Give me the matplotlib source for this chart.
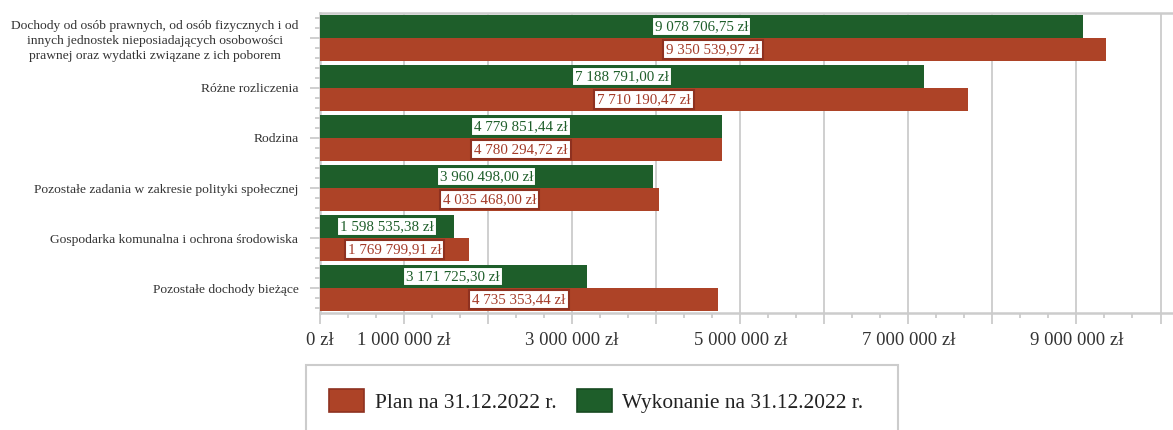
import numpy as np
import matplotlib.pyplot as plt
from matplotlib.patches import Patch, Rectangle
from matplotlib.ticker import FixedLocator, FuncFormatter

plt.rcParams["font.family"] = ["Liberation Serif", "DejaVu Serif"]

categories = [
    "Dochody od osób prawnych, od osób fizycznych i od\n"
    "innych jednostek nieposiadających osobowości\n"
    "prawnej oraz wydatki związane z ich poborem",
    "Różne rozliczenia",
    "Rodzina",
    "Pozostałe zadania w zakresie polityki społecznej",
    "Gospodarka komunalna i ochrona środowiska",
    "Pozostałe dochody bieżące",
]
wykonanie = [9078706.75, 7188791.00, 4779851.44, 3960498.00, 1598535.38, 3171725.30]
plan = [9350539.97, 7710190.47, 4780294.72, 4035468.00, 1769799.91, 4735353.44]
labelled_ticks = [0, 1e6, 3e6, 5e6, 7e6, 9e6]

GREEN = "#1e5e2a"
RED = "#ad4327"
RED_DARK = "#8e3120"
GRID = "#cccccc"
W, H = 1173, 430


def zl(v, decimals=2):
    s = f"{v:,.{decimals}f}".replace(",", " ").replace(".", ",")
    return s + " zł"


fig = plt.figure(figsize=(W / 100, H / 100), dpi=100)
ax = fig.add_axes([320 / W, (H - 313) / H, (W - 320) / W, 300 / H])

y = np.arange(len(categories))
bh = 0.45
ax.barh(y - 0.23, wykonanie, height=bh, color=GREEN, zorder=3)
ax.barh(y + 0.23, plan, height=bh, color=RED, zorder=3)

for yi, v in zip(y, wykonanie):
    ax.text(v / 2, yi - 0.23, zl(v), ha="center", va="center", fontsize=10.8,
            color=GREEN, zorder=5,
            bbox=dict(boxstyle="square,pad=0.2", fc="white", ec=GREEN, lw=1.5))
for yi, v in zip(y, plan):
    ax.text(v / 2, yi + 0.23, zl(v), ha="center", va="center", fontsize=10.8,
            color="#a33a28", zorder=5,
            bbox=dict(boxstyle="square,pad=0.2", fc="white", ec=RED_DARK, lw=1.5))

ax.set_ylim(len(categories) - 0.5, -0.5)
ax.set_xlim(0, 853 / 84.05 * 1e6)

ax.set_yticks(y)
ax.set_yticklabels(categories, multialignment="center", linespacing=1.3)
minor_y = np.concatenate([y + d for d in (-0.4, -0.2, 0.2, 0.4)])
ax.yaxis.set_minor_locator(FixedLocator(minor_y))

ax.xaxis.set_major_locator(FixedLocator(np.arange(0, 11e6, 1e6)))
ax.xaxis.set_minor_locator(FixedLocator(np.arange(0, 10.2e6, 1e6 / 3)))
ax.xaxis.set_major_formatter(FuncFormatter(
    lambda v, p: zl(v, 0) if any(abs(v - t) < 1 for t in labelled_ticks) else ""))

ax.grid(axis="x", color=GRID, lw=1.3, zorder=0)
for side in ("top", "bottom", "left"):
    ax.spines[side].set_color(GRID)
    ax.spines[side].set_linewidth(1.8)
ax.spines["right"].set_visible(False)

ax.tick_params(axis="y", which="major", length=7.5, width=1.3, color=GRID,
               pad=8, labelsize=9.7, labelcolor="#333333")
ax.tick_params(axis="y", which="minor", length=3.5, width=1.3, color=GRID)
ax.tick_params(axis="x", which="major", length=8, width=1.3, color=GRID,
               pad=6, labelsize=13.5, labelcolor="#333333")
ax.tick_params(axis="x", which="minor", length=3.5, width=1.3, color=GRID)

fig.patches.append(Rectangle((306 / W, -10 / H), 592 / W, 75 / H,
                             transform=fig.transFigure, fill=False,
                             ec=GRID, lw=1.5))
handles = [Patch(fc=RED, ec=RED_DARK, lw=1.2, label="Plan na 31.12.2022 r."),
           Patch(fc=GREEN, ec="#174a21", lw=1.2, label="Wykonanie na 31.12.2022 r.")]
fig.legend(handles=handles, loc="center left", bbox_to_anchor=(329 / W, 1 - 401 / H),
           ncol=2, frameon=False, fontsize=15.4, borderpad=0, borderaxespad=0,
           handlelength=1.64, handleheight=1.26, handletextpad=0.5,
           columnspacing=0.95, labelcolor="#222222")

fig.savefig("out.png", dpi=100)
